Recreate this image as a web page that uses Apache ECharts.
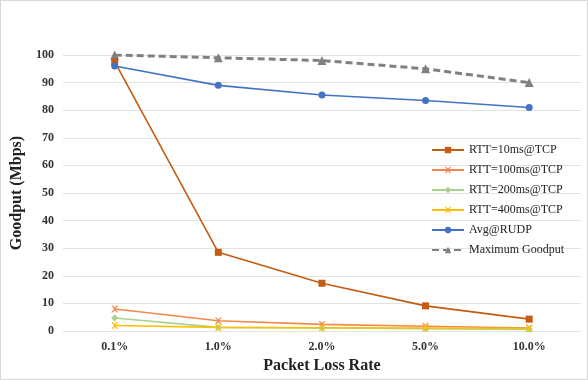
<!DOCTYPE html>
<html><head><meta charset="utf-8">
<script src="https://cdn.jsdelivr.net/npm/echarts@6/dist/echarts.min.js"></script>
<style>html,body{margin:0;padding:0;background:#fff}#c{width:586px;height:378px;border:1px solid #d9d9d9}</style>
</head><body><div id="c"></div>
<script>
const categories = ['0.1%', '1.0%', '2.0%', '5.0%', '10.0%'];
const rtt10 = [97.5, 28.5, 17.3, 9.1, 4.3];
const rtt100 = [8.0, 3.7, 2.4, 1.7, 1.1];
const rtt200 = [4.7, 1.3, 1.1, 0.8, 0.6];
const rtt400 = [2.0, 1.3, 1.2, 1.1, 0.9];
const rudp = [96, 89, 85.5, 83.5, 81];
const maxGoodput = [100, 99, 98, 95, 90];
const yTicks = [0, 10, 20, 30, 40, 50, 60, 70, 80, 90, 100];

const xPath = 'path://M0,0L2,0L5,3L8,0L10,0L6,5L10,10L8,10L5,7L2,10L0,10L4,5Z';
const font = '"Liberation Serif","Times New Roman",serif';
function s(name, data, color, symbol, size, dashed) {
  return {name, type: 'line', data, symbol, symbolSize: size,
    lineStyle: {color, width: dashed ? 3 : 1.6, type: dashed ? [7, 4] : 'solid'},
    itemStyle: {color}, z: dashed ? 1 : 2};
}
const chart = echarts.init(document.getElementById('c'));
chart.setOption({
  animation: false,
  grid: {left: 57, right: 6, top: 54, bottom: 43},
  legend: {
    orient: 'vertical', left: 425, top: 138, itemGap: 8, itemWidth: 32, itemHeight: 8,
    textStyle: {fontFamily: font, fontSize: 12, color: '#222'},
    data: ['RTT=10ms@TCP', 'RTT=100ms@TCP', 'RTT=200ms@TCP', 'RTT=400ms@TCP', 'Avg@RUDP', 'Maximum Goodput']
  },
  xAxis: {
    type: 'category', data: categories, boundaryGap: true,
    name: 'Packet Loss Rate', nameLocation: 'middle', nameGap: 27,
    nameTextStyle: {fontFamily: font, fontSize: 16, fontWeight: 'bold', color: '#222'},
    axisLine: {show: false}, axisTick: {show: false},
    axisLabel: {fontFamily: font, fontSize: 12, fontWeight: 'bold', color: '#333', margin: 10}
  },
  yAxis: {
    type: 'value', min: yTicks[0], max: yTicks[yTicks.length - 1], interval: 10,
    name: 'Goodput (Mbps)', nameLocation: 'middle', nameGap: 22,
    nameTextStyle: {fontFamily: font, fontSize: 16, fontWeight: 'bold', color: '#222'},
    axisLine: {show: false}, axisTick: {show: false},
    axisLabel: {fontFamily: font, fontSize: 12, fontWeight: 'bold', color: '#333', margin: 9},
    splitLine: {lineStyle: {color: '#e3e3e3', width: 1}}
  },
  series: [
    s('RTT=10ms@TCP', rtt10, '#C55A11', 'rect', 7),
    s('RTT=100ms@TCP', rtt100, '#F4884A', xPath, 7),
    s('RTT=200ms@TCP', rtt200, '#A9D18E', 'diamond', 7),
    s('RTT=400ms@TCP', rtt400, '#FFC000', xPath, 7),
    s('Avg@RUDP', rudp, '#4472C4', 'circle', 7),
    s('Maximum Goodput', maxGoodput, '#808080', 'triangle', 9, true)
  ]
});
</script></body></html>
